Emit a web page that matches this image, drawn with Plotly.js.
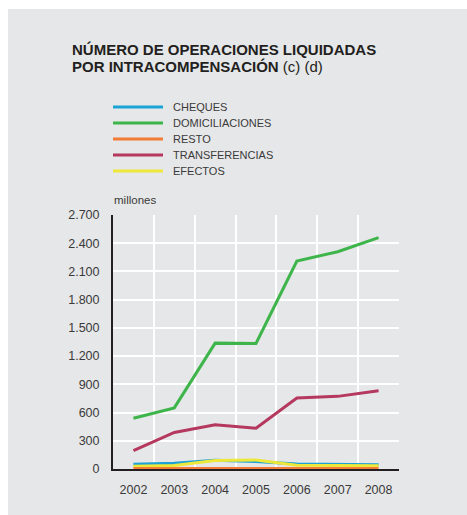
<!DOCTYPE html>
<html><head><meta charset="utf-8">
<script src="https://cdn.plot.ly/plotly-3.0.1.min.js"></script>
<style>
html,body{margin:0;padding:0;background:#fff;width:467px;height:515px;overflow:hidden}
#chart{position:absolute;left:8px;top:9px;width:459px;height:506px}
</style></head><body>
<div id="chart"></div>
<script>
const years = ['2002','2003','2004','2005','2006','2007','2008'];
const cheques = [50, 62, 93, 80, 52, 46, 45];
const domiciliaciones = [540, 650, 1338, 1335, 2210, 2310, 2460];
const resto = [5, 5, 5, 5, 5, 5, 5];
const transferencias = [195, 388, 470, 434, 755, 772, 833];
const efectos = [30, 36, 90, 95, 40, 35, 35];
const seriesNames = ['CHEQUES','DOMICILIACIONES','RESTO','TRANSFERENCIAS','EFECTOS'];
const seriesColors = ['#1ba3d6','#3db54a','#f27b35','#b5385f','#ede83a'];
const seriesData = [cheques, domiciliaciones, resto, transferencias, efectos];
const drawOrder = [0, 4, 1, 3, 2];
const yTicks = [0,300,600,900,1200,1500,1800,2100,2400,2700];
const titleLines = ['<b>NÚMERO DE OPERACIONES LIQUIDADAS</b>', '<b>POR INTRACOMPENSACIÓN</b> (c) (d)'];

const xIdx = years.map((y,i)=>i);
const traces = drawOrder.map(k => ({
  x: xIdx, y: seriesData[k], type:'scatter', mode:'lines', name: seriesNames[k],
  line:{color: seriesColors[k], width:3}, cliponaxis:false, hoverinfo:'skip'
}));

// pixel helpers (relative to the chart div)
const plotTop = 206, plotH = 254, plotLeft = 105, plotW = 286;
const py = p => (plotTop + plotH - p) / plotH;
const px = p => (p - plotLeft) / plotW;
const FONT = 'Liberation Sans, Arial, sans-serif';

const shapes = [], annotations = [];
seriesNames.forEach((n,i)=>{
  const yy = py(98 + 16*i);
  shapes.push({type:'line', xref:'paper', yref:'paper', x0:px(105), x1:px(155), y0:yy, y1:yy,
    line:{color:seriesColors[i], width:3}});
  annotations.push({xref:'paper', yref:'paper', x:px(163), y:yy, xanchor:'left', yanchor:'middle',
    text:n, showarrow:false, font:{family:FONT, size:11, color:'#3a3a3a'}});
});
annotations.push({xref:'paper', yref:'paper', x:px(104), y:py(191), xanchor:'left', yanchor:'middle',
  text:'millones', showarrow:false, font:{family:FONT, size:11.5, color:'#3a3a3a'}});
titleLines.forEach((t,i)=>{
  annotations.push({xref:'paper', yref:'paper', x:px(62), y:py(40 + 17.5*i), xanchor:'left', yanchor:'middle', align:'left',
    text:t, showarrow:false, font:{family:FONT, size:15, color:'#231f20'}});
});

const layout = {
  width:459, height:506,
  margin:{l:plotLeft, r:459-plotLeft-plotW, t:plotTop, b:506-plotTop-plotH, pad:0},
  paper_bgcolor:'#e6e7e8', plot_bgcolor:'#e6e7e8',
  separators:',.',
  showlegend:false,
  font:{family:FONT, size:12, color:'#3a3a3a'},
  xaxis:{range:[-0.5,6.5], tickmode:'array', tickvals:xIdx, ticktext:years, showgrid:false,
    zeroline:false, showline:true, linecolor:'#231f20', linewidth:2, ticks:'', ticklabelstandoff:8,
    tickfont:{size:12.5, color:'#3a3a3a'},
    minor:{tickmode:'array', tickvals:[-0.5,0.5,1.5,2.5,3.5,4.5,5.5,6.5], showgrid:true, gridcolor:'#ffffff', gridwidth:2, ticks:''}},
  yaxis:{range:[0,2700], tickmode:'array', tickvals:yTicks, tickformat:',d', showgrid:true,
    gridcolor:'#ffffff', gridwidth:2, zeroline:false, showline:true, linecolor:'#231f20', linewidth:2,
    ticks:'', ticklabelstandoff:9, tickfont:{size:12.5, color:'#3a3a3a'}},
  shapes:shapes, annotations:annotations
};
Plotly.newPlot('chart', traces, layout, {staticPlot:true, displayModeBar:false});
</script>
</body></html>
